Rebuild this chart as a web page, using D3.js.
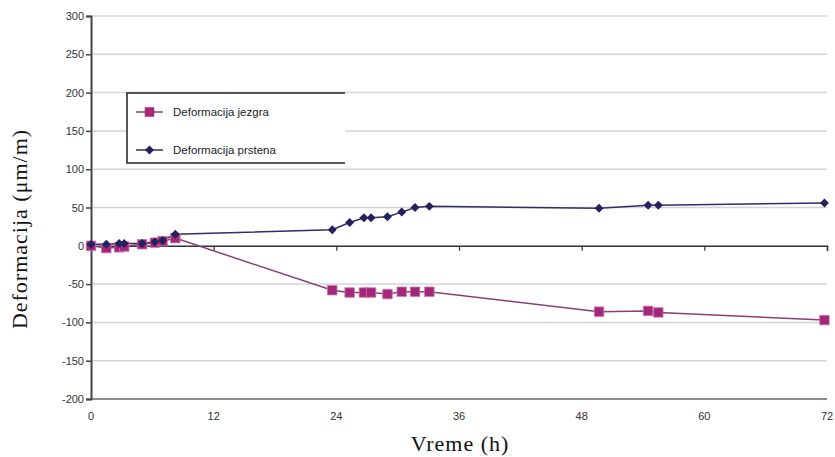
<!DOCTYPE html>
<html>
<head>
<meta charset="utf-8">
<script src="https://cdn.jsdelivr.net/npm/d3@7"></script>
<style>
  body { margin: 0; background: #fff; }
  svg { display: block; }
</style>
</head>
<body>
<svg id="chart"></svg>
<script>
// data
const coreHours = [0, 1.5, 2.75, 3.25, 5, 6.25, 7, 8.25, 23.6, 25.3, 26.7, 27.4, 29, 30.4, 31.7, 33.1, 49.7, 54.5, 55.5, 71.75];
const coreValues = [0, -3, -2, -1, 2, 4, 6, 10, -58, -61, -61, -61, -63, -60, -60, -60, -86, -85, -87, -97];
const ringHours = [0, 1.5, 2.75, 3.25, 5, 6.25, 7, 8.25, 23.6, 25.3, 26.7, 27.4, 29, 30.4, 31.7, 33.1, 49.7, 54.5, 55.5, 71.75];
const ringValues = [2, 2, 3, 3, 3, 5, 7, 15, 21, 30.5, 36.5, 36.5, 38, 44, 50, 51.5, 49, 53, 53, 56];
const xTicks = [0, 12, 24, 36, 48, 60, 72];
const yTicks = [-200, -150, -100, -50, 0, 50, 100, 150, 200, 250, 300];
const seriesNames = ['Deformacija jezgra', 'Deformacija prstena'];

const width = 835, height = 457;
const margin = { top: 16, right: 8, bottom: 58, left: 91 };
const chartWidth = width - margin.left - margin.right;
const chartHeight = height - margin.top - margin.bottom;

const svg = d3.select('#chart')
  .attr('width', width)
  .attr('height', height);

const g = svg.append('g')
  .attr('transform', `translate(${margin.left},${margin.top})`);

const xScale = d3.scaleLinear().domain([0, 72]).range([0, 736]);
const yScale = d3.scaleLinear().domain([-200, 300]).range([chartHeight, 0]);

const coreColor = '#a3287a', coreLine = '#8a3f74';
const ringColor = '#22225e', ringLine = '#2e2e68';

// grid lines
g.append('g')
  .selectAll('line')
  .data(yTicks.filter(d => d !== 0 && d !== -200))
  .enter()
  .append('line')
  .attr('x1', 0)
  .attr('x2', chartWidth)
  .attr('y1', d => yScale(d))
  .attr('y2', d => yScale(d))
  .attr('stroke', '#d4d4d4')
  .attr('stroke-width', 1.5);

// bottom frame line
g.append('line')
  .attr('x1', 0).attr('x2', chartWidth)
  .attr('y1', yScale(-200)).attr('y2', yScale(-200))
  .attr('stroke', '#666').attr('stroke-width', 1.5);

// Y axis
const yAxis = d3.axisLeft(yScale).tickValues(yTicks).tickSize(5).tickPadding(2)
  .tickFormat(d => String(d));
const yG = g.append('g').call(yAxis);
yG.select('.domain').attr('stroke', '#444').attr('stroke-width', 2);
yG.selectAll('.tick line').attr('stroke', '#444').attr('stroke-width', 1.5);
yG.selectAll('text')
  .style('font-family', 'Liberation Sans, Arial, sans-serif')
  .style('font-size', '11px')
  .style('fill', '#333');

// zero line with ticks
const xAxis = d3.axisBottom(xScale).tickValues(xTicks).tickSize(5).tickFormat('');
const xG = g.append('g')
  .attr('transform', `translate(0,${yScale(0)})`)
  .call(xAxis);
xG.select('.domain').attr('stroke', '#333').attr('stroke-width', 1.5);
xG.selectAll('.tick line').attr('stroke', '#333').attr('stroke-width', 1.2);

// x tick labels at the bottom
g.append('g')
  .selectAll('text')
  .data(xTicks)
  .enter()
  .append('text')
  .attr('x', d => xScale(d))
  .attr('y', yScale(-200) + 21)
  .attr('text-anchor', 'middle')
  .style('font-family', 'Liberation Sans, Arial, sans-serif')
  .style('font-size', '11px')
  .style('fill', '#333')
  .text(d => d);

// series
const line = d3.line().x(d => xScale(d[0])).y(d => yScale(d[1]));
const corePts = d3.zip(coreHours, coreValues);
const ringPts = d3.zip(ringHours, ringValues);

g.append('path')
  .datum(corePts)
  .attr('d', line)
  .attr('fill', 'none')
  .attr('stroke', coreLine)
  .attr('stroke-width', 1.5);

g.append('path')
  .datum(ringPts)
  .attr('d', line)
  .attr('fill', 'none')
  .attr('stroke', ringLine)
  .attr('stroke-width', 1.5);

const square = d3.symbol().type(d3.symbolSquare).size(90);
const diamond = d3.symbol().type(d3.symbolSquare).size(40);

g.append('g')
  .selectAll('path')
  .data(corePts)
  .enter()
  .append('path')
  .attr('d', square)
  .attr('transform', d => `translate(${xScale(d[0])},${yScale(d[1])})`)
  .attr('fill', coreColor)
  .attr('stroke', '#d070b0')
  .attr('stroke-width', 0.8);

g.append('g')
  .selectAll('path')
  .data(ringPts)
  .enter()
  .append('path')
  .attr('d', diamond)
  .attr('transform', d => `translate(${xScale(d[0])},${yScale(d[1])}) rotate(45)`)
  .attr('fill', ringColor);

// legend
const legend = svg.append('g');
legend.append('path')
  .attr('d', 'M345,93 H127 V163 H345')
  .attr('fill', '#fff')
  .attr('stroke', '#222')
  .attr('stroke-width', 1.5);

const items = [
  { name: seriesNames[0], y: 112, color: coreColor, lc: coreLine, sym: square, rot: 0 },
  { name: seriesNames[1], y: 150, color: ringColor, lc: ringLine, sym: diamond, rot: 45 }
];
items.forEach(it => {
  legend.append('line')
    .attr('x1', 136).attr('x2', 163)
    .attr('y1', it.y).attr('y2', it.y)
    .attr('stroke', it.lc).attr('stroke-width', 1.5);
  legend.append('path')
    .attr('d', it.sym)
    .attr('transform', `translate(149.5,${it.y}) rotate(${it.rot})`)
    .attr('fill', it.color);
  legend.append('text')
    .attr('x', 173)
    .attr('y', it.y + 4)
    .style('font-family', 'Liberation Sans, Arial, sans-serif')
    .style('font-size', '11.5px')
    .style('fill', '#222')
    .text(it.name);
});

// axis titles
svg.append('text')
  .attr('transform', 'rotate(-90)')
  .attr('x', -229)
  .attr('y', 27)
  .attr('text-anchor', 'middle')
  .style('font-family', 'Liberation Serif, Times New Roman, serif')
  .style('font-size', '22px')
  .style('letter-spacing', '1px')
  .style('fill', '#111')
  .text('Deformacija (μm/m)');

svg.append('text')
  .attr('x', 460)
  .attr('y', 451)
  .attr('text-anchor', 'middle')
  .style('font-family', 'Liberation Serif, Times New Roman, serif')
  .style('font-size', '22px')
  .style('letter-spacing', '1px')
  .style('fill', '#111')
  .text('Vreme (h)');
</script>
</body>
</html>
